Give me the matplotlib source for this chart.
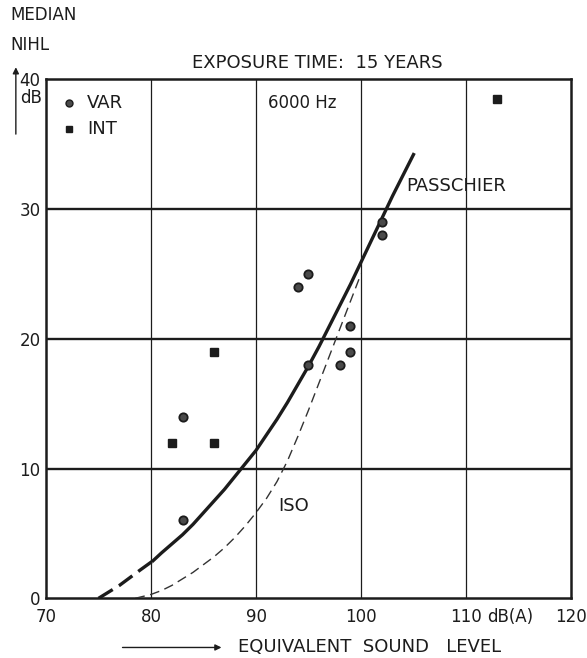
import numpy as np
import matplotlib.pyplot as plt

var_x = [83, 83, 94, 95, 95, 98, 99, 99, 102, 102]
var_y = [6, 14, 24, 25, 18, 18, 19, 21, 28, 29]
int_x = [82, 86, 86, 113]
int_y = [12, 12, 19, 38.5]

# Passchier curve: dashed extrapolation part, then solid part
pas_dash_x = [75, 76, 77, 78, 79, 80.2]
pas_dash_y = [0.0, 0.5, 1.0, 1.6, 2.2, 2.9]
pas_x = [80.2, 81, 82, 83, 84, 85, 86, 87, 88, 89, 90, 91, 92, 93,
         94, 95, 96, 97, 98, 99, 100, 101, 102, 103, 104, 105]
pas_y = [2.9, 3.5, 4.2, 4.9, 5.7, 6.6, 7.5, 8.4, 9.4, 10.4, 11.4, 12.6, 13.8, 15.1,
         16.5, 17.9, 19.4, 21.0, 22.6, 24.2, 25.9, 27.6, 29.3, 31.0, 32.6, 34.2]

# ISO curve
iso_x = [78.5, 79, 80, 81, 82, 83, 84, 85, 86, 87, 88, 89,
         90, 91, 92, 93, 94, 95, 96, 97, 98, 99, 100]
iso_y = [0.0, 0.1, 0.3, 0.6, 1.0, 1.5, 2.0, 2.6, 3.2, 3.9, 4.7, 5.6,
         6.6, 7.7, 9.0, 10.6, 12.5, 14.5, 16.6, 18.7, 20.8, 22.9, 25.0]

x_ticks = [70, 80, 90, 100, 110, 120]
y_ticks = [0, 10, 20, 30, 40]

ink = "#1c1c1c"
plt.rcParams["font.family"] = ["DejaVu Sans"]

fig = plt.figure(figsize=(5.87, 6.58), dpi=100)
ax = fig.add_axes([0.0784, 0.0907, 0.8943, 0.7888])

ax.set_xlim(70, 120)
ax.set_ylim(0, 40)

for x in x_ticks[1:-1]:
    ax.axvline(x, color=ink, lw=0.9, zorder=1)
for y in y_ticks[1:-1]:
    ax.axhline(y, color=ink, lw=1.7, zorder=1)

for s in ax.spines.values():
    s.set_linewidth(1.8)
    s.set_color(ink)

ax.set_xticks(x_ticks)
ax.set_yticks(y_ticks)
ax.tick_params(length=0, labelsize=12, colors=ink)
ax.tick_params(axis="x", pad=7)
ax.tick_params(axis="y", pad=4)

ax.plot(pas_dash_x, pas_dash_y, color=ink, lw=2.4, dashes=(5, 2.2), zorder=3)
ax.plot(pas_x, pas_y, color=ink, lw=2.4, zorder=3, solid_joinstyle="round")
ax.plot(iso_x, iso_y, color="#333333", lw=1.0, dashes=(7, 4), zorder=3)

ax.plot(var_x, var_y, "o", color="#4a4a4a", ms=6, mec=ink, mew=1.3, zorder=4)
ax.plot(int_x, int_y, "s", color=ink, ms=6, zorder=4)

# in-plot texts
ax.plot([72.2], [38.2], "o", color="#4a4a4a", ms=5, mec=ink, clip_on=False)
ax.text(73.9, 38.2, "VAR", fontsize=13, va="center", color=ink)
ax.plot([72.2], [36.2], "s", color=ink, ms=5, clip_on=False)
ax.text(73.9, 36.2, "INT", fontsize=13, va="center", color=ink)
ax.text(91.1, 38.2, "6000 Hz", fontsize=12, va="center", color=ink)
ax.text(104.3, 31.8, "PASSCHIER", fontsize=13, va="center", color=ink)
ax.text(92.1, 7.1, "ISO", fontsize=13, va="center", color=ink)
ax.text(114.2, -0.75, "dB(A)", fontsize=12, ha="center", va="top", color=ink)

# labels around the frame
fig.text(0.54, 0.905, "EXPOSURE TIME:  15 YEARS", fontsize=13, ha="center",
         va="center", color=ink)
fig.text(0.017, 0.977, "MEDIAN", fontsize=12, ha="left", va="center", color=ink)
fig.text(0.017, 0.931, "NIHL", fontsize=12, ha="left", va="center", color=ink)
fig.text(0.034, 0.851, "dB", fontsize=12, ha="left", va="center", color=ink)
ax.annotate("", xy=(0.027, 0.902), xytext=(0.027, 0.792), xycoords="figure fraction",
            annotation_clip=False,
            arrowprops=dict(arrowstyle="-|>", color=ink, lw=1.0, mutation_scale=9))
ax.annotate("", xy=(0.382, 0.016), xytext=(0.204, 0.016), xycoords="figure fraction",
            annotation_clip=False,
            arrowprops=dict(arrowstyle="-|>", color=ink, lw=1.0, mutation_scale=9))
fig.text(0.405, 0.016, "EQUIVALENT  SOUND   LEVEL", fontsize=13, ha="left",
         va="center", color=ink)

fig.savefig("out.png", dpi=100, facecolor="white")
